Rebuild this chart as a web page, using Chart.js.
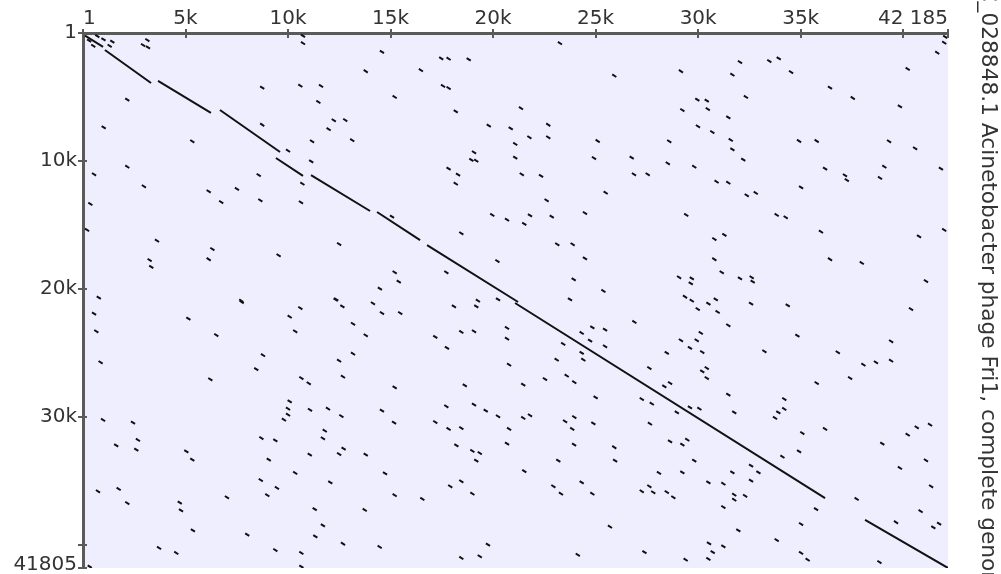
<!DOCTYPE html>
<html>
<head>
<meta charset="utf-8">
<script src="https://cdn.jsdelivr.net/npm/chart.js@4/dist/chart.umd.min.js"></script>
<style>
  html, body { margin: 0; padding: 0; background: #ffffff; }
  #wrap { width: 1001px; height: 574px; }
</style>
</head>
<body>
<div id="wrap"><canvas id="c" width="1001" height="574"></canvas></div>
<script>
// ---- Sequence lengths / axes ----
const xLength = 42185;   // subject (top axis)
const yLength = 41805;   // query (left axis)
const xTickValues = [1, 5000, 10000, 15000, 20000, 25000, 30000, 35000, 40000, 42185];
const xTickLabels = ['1', '5k', '10k', '15k', '20k', '25k', '30k', '35k', '', '42 185'];
const yTickValues = [1, 10000, 20000, 30000, 40000, 41805];
const yTickLabels = ['1', '10k', '20k', '30k', '', '41805'];
const titleText = 'NC_028848.1 Acinetobacter phage Fri1, complete genome';

// ---- Main collinear alignment blocks (start x, start y, end x, end y) ----
const mainX1 = [100, 1070, 3660, 6680, 9410, 11120, 14340, 16780, 21070, 38140];
const mainY1 = [200, 1330, 3750, 6020, 9770, 11100, 13990, 16570, 21100, 38050];
const mainX2 = [980, 3320, 6240, 9610, 10730, 14000, 16440, 21220, 36190, 42185];
const mainY2 = [1090, 3910, 6250, 9300, 11170, 13910, 16180, 21020, 36340, 41805];

// ---- Short matches: centre positions (x, y) ----
const matchLen = 200;
const dashX = [
 300,700,500,1000,1300,
 1430,2930,3170,3140,10730,10730,14580,17470,17830,18810,13790,16480,8740,10600,11610,17560,17830,2160,11480,15200,18180,12230,12790,11980,1010,8740,19790,20860,5330,11170,13130,21080,19070,18940,19180,21080,10000,11130,2160,540,8570,17830,18290,18180,2970,7510,6130,10700,360,6740,8650,10630,15070,19960,20680,18450,200,3610,12490,6310,6130,9540,3250,3330,20210,15200,15400,17720,14480,770,7720,12350,19260,20240,
 23260,25910,29160,32040,31670,33470,33930,34530,36430,37540,40220,41660,42000,42050,39840,29960,30420,30470,29230,32330,31470,21360,22690,29990,30690,21770,22690,25100,28590,31590,31670,34920,35780,39310,40580,24920,26760,28520,32200,21400,22340,26870,27540,29810,30900,31470,36190,37160,37250,39080,38870,41840,35020,25490,32370,32810,22610,21800,22860,21520,24480,29420,33830,34270,35990,42000,40770,23130,23880,30790,31280,24480,30790,36430,37980,23930,25380,31150,29070,29690,29640,32040,32610,32660,41110,23750,29360,29690,30860,
 540,650,860,5140,6500,7740,10600,10080,10350,12320,12650,14140,14580,15470,13170,13790,18090,19180,18450,19070,20680,20680,17180,17750,20780,8780,8450,13170,12490,6210,10650,11010,12680,15200,18620,17720,19070,19640,20240,10080,10000,10000,9800,11070,11950,12600,14580,15170,17180,17830,18450,20780,980,2440,2680,1620,2600,5040,5330,8700,9380,9060,11790,11700,11060,12490,12710,13790,18210,18990,19350,19180,20680,10350,8670,9460,8990,12060,14730,15200,16550,17910,18450,18990,730,1740,2160,4720,4780,7020,11300,13740,11700,5360,8010,11330,12680,14470,3710,4550,9380,10650,19750,18450,19350,10650,330,
 30500,29980,30950,32580,34370,40380,26890,31470,24840,25460,24320,30130,29160,29930,29600,24730,23420,25460,24320,24400,23100,28470,30200,33230,34840,36810,39410,38060,38670,39410,27620,30200,30420,30420,23590,22530,23960,21470,28350,28630,37410,35780,25000,27250,27740,31470,34200,34200,33910,33750,28960,29600,30060,31760,21470,21800,23510,23960,23860,24890,27650,35080,36190,41310,40660,40220,38980,28630,29230,29470,23950,25910,34920,23180,25950,29810,34110,41110,39840,21520,28090,29230,31670,32580,32940,32580,24320,30500,31230,22940,23310,24840,27250,27620,27810,28470,28790,31760,31760,32290,41360,37730,31230,35750,40850,39650,41470,41750,35020,31960,25700,33830,30530,31230,24130,27380,30710,30500,29390,35020,35340,38840
];
const dashY = [
 600,250,1000,500,1000,
 680,940,1120,550,230,800,1480,1980,2010,2060,2990,2910,4270,4120,4140,4140,4300,5210,5390,5000,6120,6820,6800,7520,7370,7170,7240,7450,8460,8460,8380,8670,9320,9920,9980,9740,9200,10030,10450,11040,11100,10600,11070,11780,11980,12190,12370,11780,13360,13210,13070,13230,14350,14220,14590,15650,15390,16230,16490,16880,17680,17370,17740,18280,17820,18700,19430,18700,19980,20680,20920,20810,20920,20810,
 800,3340,2990,2270,3260,2190,1980,3050,4270,5080,2810,1540,760,300,5730,5210,5290,5940,6020,5000,6590,5880,7170,7290,7740,8150,8150,8440,8460,8360,9090,8440,8440,8460,9010,9770,9740,10180,9900,11040,11170,11040,11040,10450,11620,11700,10600,11120,11490,10450,11330,10600,12060,12480,12680,12500,13070,14250,14350,14920,14070,14220,14220,14400,15530,15390,15890,16510,16510,16100,15780,17610,17680,17680,17970,19250,20160,18700,19090,19170,19560,19170,19090,19430,19380,20810,20610,20920,20810,
 21930,23310,25730,22320,23600,21020,21490,22170,23310,20840,21360,21120,21880,21880,22720,23620,21360,21360,23360,23310,23050,23890,23750,24610,25920,25180,26260,25060,25610,27060,26960,27370,26860,27690,27530,29170,29040,29510,29950,28780,29360,29830,30220,29440,29360,29930,29510,30450,30400,30940,30870,30940,30240,30450,31800,32220,32560,32690,33340,31650,31830,33340,31080,31670,32950,32900,32480,32950,32220,32660,32820,33420,32090,34380,34930,35550,36120,35110,34410,36120,36410,35420,35030,36000,35810,35630,36730,36700,37300,36280,37200,37270,38470,38860,39200,39330,39910,40160,40240,40630,40400,40630,39980,41020,40890,41700,41700,
 21150,21570,21800,21150,21280,21570,22580,22840,23000,23180,23440,23440,24010,24010,24610,24040,24300,24480,25000,25530,25530,25000,24930,24870,23650,24950,24090,25920,25730,25610,26180,26440,26180,26960,26780,27040,27290,27480,27610,27350,26960,27350,28470,28600,28970,28260,28600,29380,29640,30080,29640,29250,29360,29640,30080,29870,30340,30010,30940,30500,30530,31260,30940,30610,30810,31390,32090,31910,32170,31780,32170,32370,32690,33420,33420,33420,33110,33390,33990,34230,34380,34330,34330,33810,34330,34980,35110,35110,35220,35420,36000,36000,35810,35420,35890,35870,36280,36080,36470,36160,35420,36410,37040,37200,37370,38230,38630,38340,38370,38860,38580,39620,39880,40110,40770,40560,40560,41100,41160,40630,41160,41340
];

// ---- Build line data with gaps between segments ----
function segPoints(x1s, y1s, x2s, y2s) {
  const pts = [];
  for (let i = 0; i < x1s.length; i++) {
    pts.push({x: x1s[i], y: y1s[i]});
    pts.push({x: x2s[i], y: y2s[i]});
    pts.push({x: x2s[i], y: null});
  }
  return pts;
}
const dashPts = [];
const n = Math.min(dashX.length, dashY.length);
for (let i = 0; i < n; i++) {
  const h = matchLen / 2;
  dashPts.push({x: dashX[i] - h, y: dashY[i] - h});
  dashPts.push({x: dashX[i] + h, y: dashY[i] + h});
  dashPts.push({x: dashX[i] + h, y: null});
}
const mainPts = segPoints(mainX1, mainY1, mainX2, mainY2);

const FONT = 'DejaVu Sans';
const AXIS_COLOR = '#5a5a5a';
const TEXT_COLOR = '#333333';

const bgPlugin = {
  id: 'plotBg',
  beforeDraw(chart) {
    const {ctx, chartArea: a} = chart;
    ctx.save();
    ctx.fillStyle = '#eeeeff';
    ctx.fillRect(a.left, a.top, a.right - a.left, a.bottom - a.top);
    ctx.restore();
  }
};

const tickPlugin = {
  id: 'crossTicks',
  afterDraw(chart) {
    const {ctx, chartArea: a} = chart;
    const xs = chart.scales.x, ys = chart.scales.y;
    ctx.save();
    ctx.strokeStyle = AXIS_COLOR;
    ctx.lineWidth = 2;
    ctx.beginPath();
    xTickValues.forEach(v => {
      const p = Math.round(xs.getPixelForValue(v));
      ctx.moveTo(p, a.top - 4); ctx.lineTo(p, a.top + 5);
    });
    yTickValues.forEach(v => {
      const p = Math.round(ys.getPixelForValue(v));
      ctx.moveTo(a.left - 5, p); ctx.lineTo(a.left + 4, p);
    });
    ctx.stroke();
    // last y label kept inside the canvas
    ctx.fillStyle = TEXT_COLOR;
    ctx.font = '20px "' + FONT + '"';
    ctx.textAlign = 'right';
    ctx.textBaseline = 'bottom';
    const lastY = yTickValues.length - 1;
    ctx.fillText(yEndLabel, a.left - 6, chart.height + 1);
    // rotated title on the right
    ctx.font = '21.7px "' + FONT + '"';
    ctx.textAlign = 'center';
    ctx.textBaseline = 'middle';
    ctx.translate(988, chart.height / 2 + 1);
    ctx.rotate(Math.PI / 2);
    ctx.fillText(titleText, 0, 0);
    ctx.restore();
  }
};
const yEndLabel = yTickLabels[yTickLabels.length - 1];

new Chart(document.getElementById('c'), {
  type: 'scatter',
  data: {
    datasets: [
      {data: dashPts, showLine: true, spanGaps: false, borderColor: '#111111', borderWidth: 2, pointRadius: 0, borderCapStyle: 'butt'},
      {data: mainPts, showLine: true, spanGaps: false, borderColor: '#111111', borderWidth: 2, pointRadius: 0, borderCapStyle: 'butt'}
    ]
  },
  options: {
    responsive: false,
    devicePixelRatio: 1,
    animation: false,
    layout: {padding: {left: 0, top: 0, right: 53, bottom: 6}},
    plugins: {legend: {display: false}, tooltip: {enabled: false}, title: {display: false}},
    scales: {
      x: {
        type: 'linear', position: 'top', min: 1, max: xLength,
        afterBuildTicks: s => { s.ticks = xTickValues.map(v => ({value: v})); },
        afterFit: s => { s.height = 33; s.paddingLeft = 0; s.paddingRight = 0; },
        ticks: {
          callback: (v, i) => xTickLabels[i],
          autoSkip: false, maxRotation: 0, align: 'inner', padding: 2,
          color: TEXT_COLOR, font: {family: FONT, size: 20}
        },
        grid: {drawOnChartArea: false, drawTicks: false, color: 'rgba(0,0,0,0)'},
        border: {display: true, color: AXIS_COLOR, width: 3}
      },
      y: {
        type: 'linear', position: 'left', reverse: true, min: 1, max: yLength,
        afterBuildTicks: s => { s.ticks = yTickValues.map(v => ({value: v})); },
        afterFit: s => { s.width = 83; s.paddingTop = 0; s.paddingBottom = 0; },
        ticks: {
          callback: (v, i) => (i === yTickValues.length - 1 ? '' : yTickLabels[i]),
          autoSkip: false, padding: 1,
          color: TEXT_COLOR, font: {family: FONT, size: 20}
        },
        grid: {drawOnChartArea: false, color: 'rgba(0,0,0,0)', tickLength: 5},
        border: {display: true, color: AXIS_COLOR, width: 3}
      }
    }
  },
  plugins: [bgPlugin, tickPlugin]
});
</script>
</body>
</html>
